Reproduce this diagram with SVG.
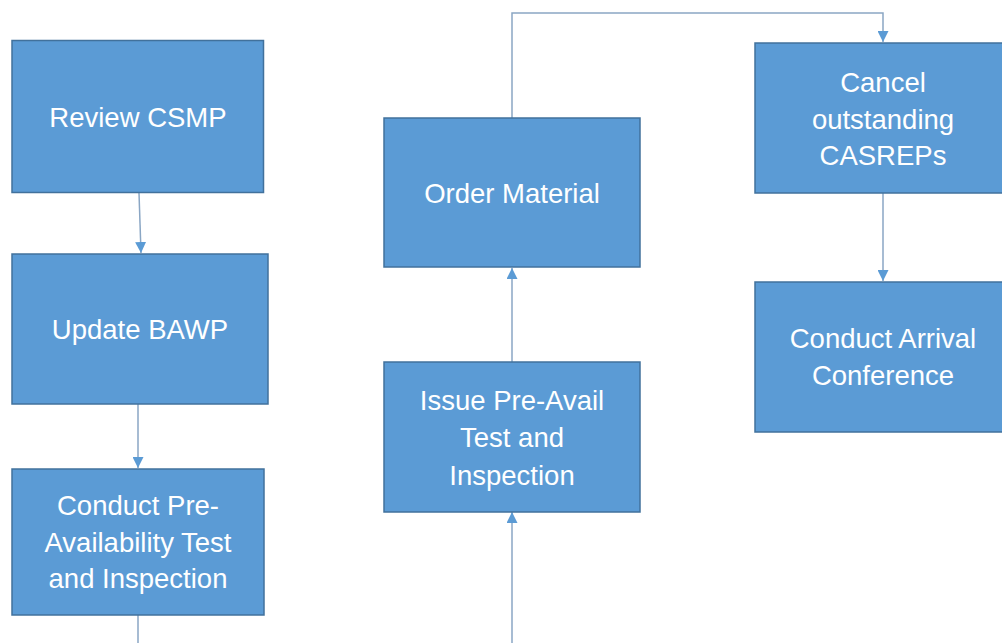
<svg xmlns="http://www.w3.org/2000/svg" width="1002" height="643" viewBox="0 0 1002 643">
  <style>
    .box { fill: #5B9BD5; stroke: #41719C; stroke-width: 1.5; }
    .lbl { fill: #ffffff; font-family: "Liberation Sans", Arial, sans-serif; font-size: 27.5px; text-anchor: middle; }
    .conn { fill: none; stroke: #8AA6C4; stroke-width: 1.5; }
  </style>
  <defs>
    <marker id="arrow" viewBox="0 0 10 10" refX="10" refY="5" markerWidth="11" markerHeight="11" markerUnits="userSpaceOnUse" orient="auto">
      <path d="M0,0 L10,5 L0,10 Z" fill="#5B9BD5"/>
    </marker>
  </defs>
  <rect width="1002" height="643" fill="#ffffff"/>

  <g id="connectors">
    <path class="conn" d="M139,193 L141,253" marker-end="url(#arrow)"/>
    <path class="conn" d="M138,404 L138,468" marker-end="url(#arrow)"/>
    <path class="conn" d="M138,615 L138,643"/>
    <path class="conn" d="M512,643 L512,512" marker-end="url(#arrow)"/>
    <path class="conn" d="M512,362 L512,268" marker-end="url(#arrow)"/>
    <path class="conn" d="M512,118 L512,13 L883,13 L883,42" marker-end="url(#arrow)"/>
    <path class="conn" d="M883,193 L883,281" marker-end="url(#arrow)"/>
  </g>

  <g id="review-csmp">
    <rect class="box" x="12" y="40.5" width="251.5" height="152"/>
    <text class="lbl" x="138" y="127">Review CSMP</text>
  </g>
  <g id="update-bawp">
    <rect class="box" x="12" y="254" width="256" height="150"/>
    <text class="lbl" x="140" y="339">Update BAWP</text>
  </g>
  <g id="conduct-pre-availability">
    <rect class="box" x="12" y="469" width="252" height="146"/>
    <text class="lbl" x="138" y="515">Conduct Pre-</text>
    <text class="lbl" x="138" y="552">Availability Test</text>
    <text class="lbl" x="138" y="588">and Inspection</text>
  </g>
  <g id="order-material">
    <rect class="box" x="384" y="118" width="256" height="149"/>
    <text class="lbl" x="512" y="203">Order Material</text>
  </g>
  <g id="issue-pre-avail">
    <rect class="box" x="384" y="362" width="256" height="150"/>
    <text class="lbl" x="512" y="410">Issue Pre-Avail</text>
    <text class="lbl" x="512" y="447">Test and</text>
    <text class="lbl" x="512" y="485">Inspection</text>
  </g>
  <g id="cancel-casreps">
    <rect class="box" x="755" y="43" width="256" height="150"/>
    <text class="lbl" x="883" y="92">Cancel</text>
    <text class="lbl" x="883" y="129">outstanding</text>
    <text class="lbl" x="883" y="165">CASREPs</text>
  </g>
  <g id="arrival-conference">
    <rect class="box" x="755" y="282" width="256" height="150"/>
    <text class="lbl" x="883" y="348">Conduct Arrival</text>
    <text class="lbl" x="883" y="385">Conference</text>
  </g>
</svg>
